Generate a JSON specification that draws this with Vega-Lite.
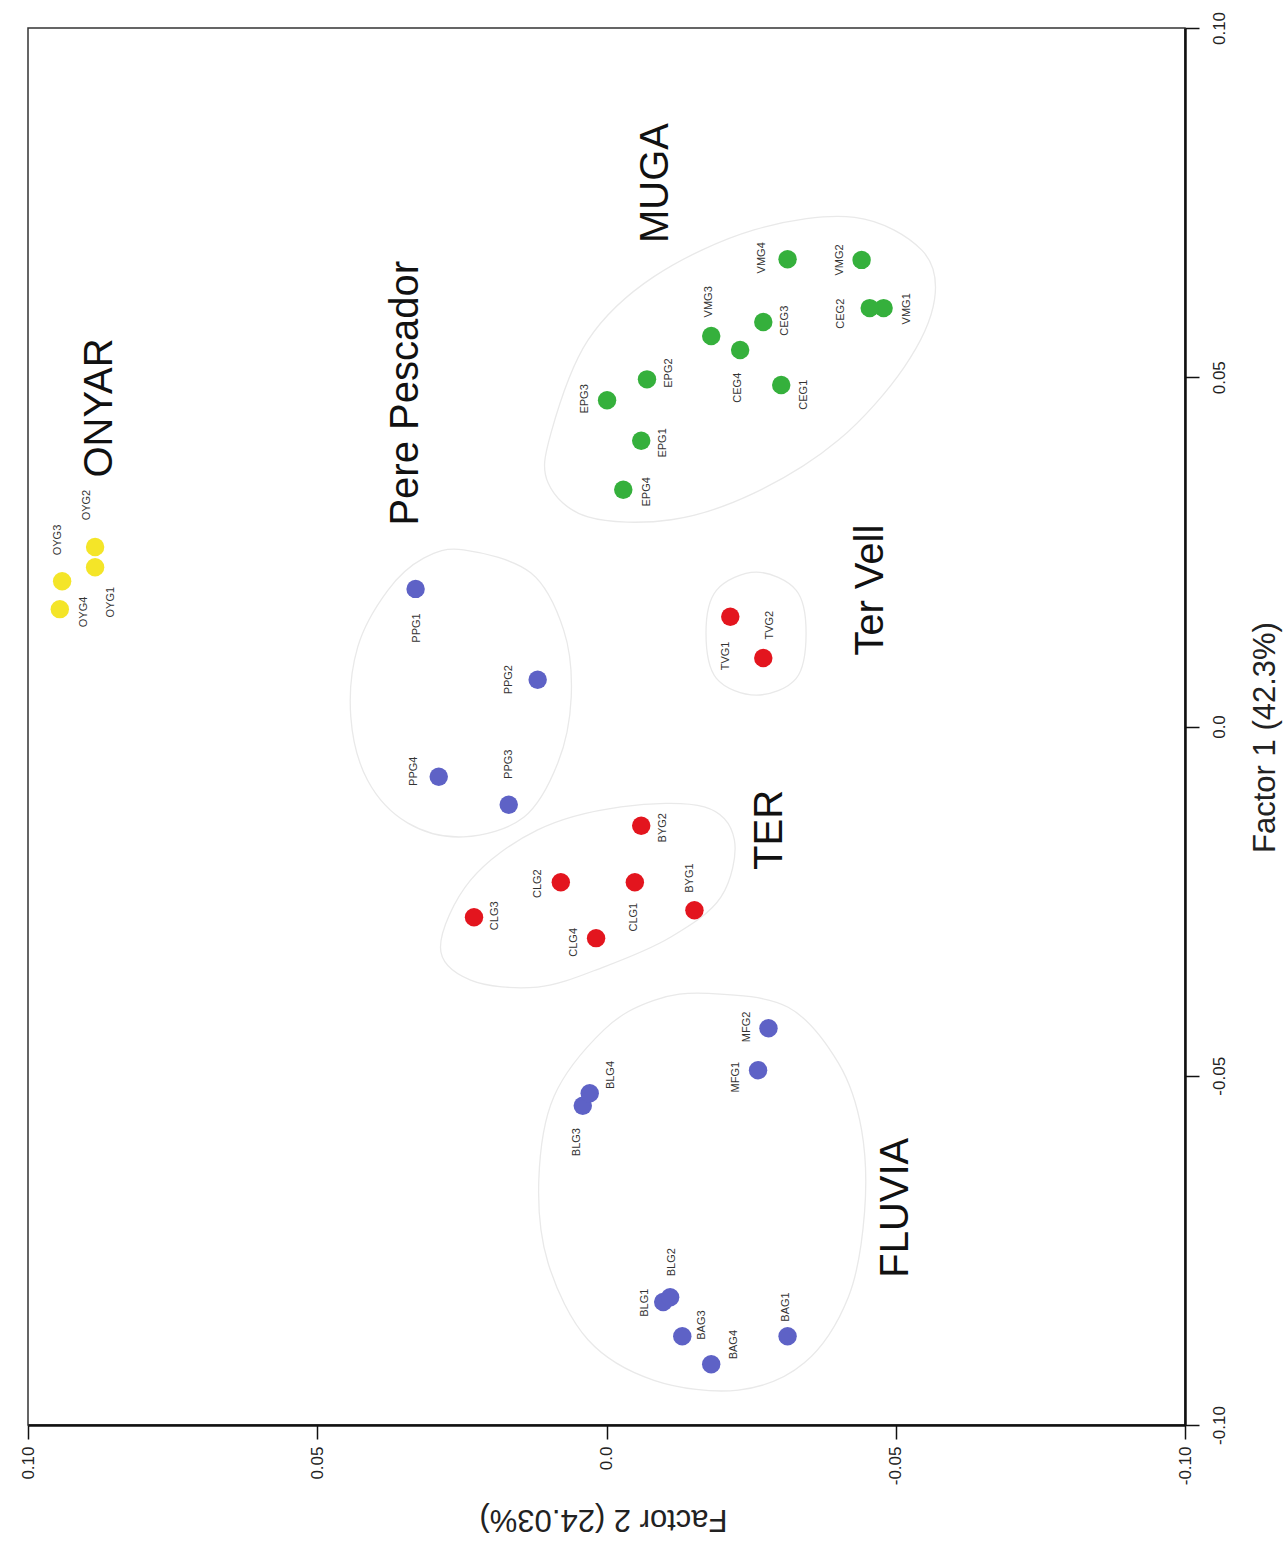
{
  "$schema": "https://vega.github.io/schema/vega-lite/v6.json",
  "width": 1157,
  "height": 1397,
  "autosize": {"type": "none"},
  "padding": {"left": 28, "top": 28, "right": 101, "bottom": 125},
  "background": "white",
  "config": {
    "view": {"stroke": "#333333", "strokeWidth": 1.5},
    "font": "Liberation Sans"
  },
  "datasets": {
    "pts": [
      {"id": "OYG1", "river": "ONYAR", "f2": 0.0884, "f1": 0.0228, "lf2": 0.0856, "lf1": 0.0178},
      {"id": "OYG2", "river": "ONYAR", "f2": 0.0884, "f1": 0.0257, "lf2": 0.0898, "lf1": 0.0317},
      {"id": "OYG3", "river": "ONYAR", "f2": 0.0941, "f1": 0.0208, "lf2": 0.0948, "lf1": 0.0267},
      {"id": "OYG4", "river": "ONYAR", "f2": 0.0945, "f1": 0.0168, "lf2": 0.0903, "lf1": 0.0164},
      {"id": "PPG1", "river": "Pere Pescador", "f2": 0.0330, "f1": 0.0197, "lf2": 0.0328, "lf1": 0.0141},
      {"id": "PPG2", "river": "Pere Pescador", "f2": 0.0119, "f1": 0.0067, "lf2": 0.0169, "lf1": 0.0067},
      {"id": "PPG3", "river": "Pere Pescador", "f2": 0.0169, "f1": -0.0112, "lf2": 0.0169, "lf1": -0.0054},
      {"id": "PPG4", "river": "Pere Pescador", "f2": 0.0290, "f1": -0.0072, "lf2": 0.0333, "lf1": -0.0064},
      {"id": "TVG1", "river": "Ter Vell", "f2": -0.0214, "f1": 0.0157, "lf2": -0.0207, "lf1": 0.0101},
      {"id": "TVG2", "river": "Ter Vell", "f2": -0.0271, "f1": 0.0098, "lf2": -0.0283, "lf1": 0.0145},
      {"id": "EPG1", "river": "MUGA", "f2": -0.0060, "f1": 0.0409, "lf2": -0.0098, "lf1": 0.0406},
      {"id": "EPG2", "river": "MUGA", "f2": -0.0070, "f1": 0.0497, "lf2": -0.0108, "lf1": 0.0506},
      {"id": "EPG3", "river": "MUGA", "f2": -0.0001, "f1": 0.0467, "lf2": 0.0037, "lf1": 0.0469},
      {"id": "EPG4", "river": "MUGA", "f2": -0.0029, "f1": 0.0339, "lf2": -0.0070, "lf1": 0.0336},
      {"id": "VMG1", "river": "MUGA", "f2": -0.0479, "f1": 0.0599, "lf2": -0.0519, "lf1": 0.0598},
      {"id": "VMG2", "river": "MUGA", "f2": -0.0441, "f1": 0.0668, "lf2": -0.0404, "lf1": 0.0668},
      {"id": "VMG3", "river": "MUGA", "f2": -0.0181, "f1": 0.0559, "lf2": -0.0177, "lf1": 0.0608},
      {"id": "VMG4", "river": "MUGA", "f2": -0.0313, "f1": 0.0669, "lf2": -0.0269, "lf1": 0.0671},
      {"id": "CEG1", "river": "MUGA", "f2": -0.0302, "f1": 0.0489, "lf2": -0.0342, "lf1": 0.0475},
      {"id": "CEG2", "river": "MUGA", "f2": -0.0455, "f1": 0.0599, "lf2": -0.0406, "lf1": 0.0591},
      {"id": "CEG3", "river": "MUGA", "f2": -0.0271, "f1": 0.0579, "lf2": -0.0309, "lf1": 0.0581},
      {"id": "CEG4", "river": "MUGA", "f2": -0.0231, "f1": 0.0539, "lf2": -0.0228, "lf1": 0.0485},
      {"id": "BYG1", "river": "TER", "f2": -0.0152, "f1": -0.0263, "lf2": -0.0145, "lf1": -0.0217},
      {"id": "BYG2", "river": "TER", "f2": -0.0060, "f1": -0.0142, "lf2": -0.0098, "lf1": -0.0145},
      {"id": "CLG1", "river": "TER", "f2": -0.0049, "f1": -0.0223, "lf2": -0.0048, "lf1": -0.0273},
      {"id": "CLG2", "river": "TER", "f2": 0.0079, "f1": -0.0223, "lf2": 0.0119, "lf1": -0.0225},
      {"id": "CLG3", "river": "TER", "f2": 0.0229, "f1": -0.0273, "lf2": 0.0193, "lf1": -0.0271},
      {"id": "CLG4", "river": "TER", "f2": 0.0018, "f1": -0.0303, "lf2": 0.0056, "lf1": -0.0309},
      {"id": "MFG1", "river": "FLUVIA", "f2": -0.0262, "f1": -0.0492, "lf2": -0.0223, "lf1": -0.0502},
      {"id": "MFG2", "river": "FLUVIA", "f2": -0.0280, "f1": -0.0432, "lf2": -0.0243, "lf1": -0.0430},
      {"id": "BLG1", "river": "FLUVIA", "f2": -0.0098, "f1": -0.0824, "lf2": -0.0067, "lf1": -0.0825},
      {"id": "BLG2", "river": "FLUVIA", "f2": -0.0110, "f1": -0.0817, "lf2": -0.0113, "lf1": -0.0767},
      {"id": "BLG3", "river": "FLUVIA", "f2": 0.0041, "f1": -0.0543, "lf2": 0.0051, "lf1": -0.0595},
      {"id": "BLG4", "river": "FLUVIA", "f2": 0.0029, "f1": -0.0525, "lf2": -0.0008, "lf1": -0.0499},
      {"id": "BAG1", "river": "FLUVIA", "f2": -0.0313, "f1": -0.0873, "lf2": -0.0311, "lf1": -0.0831},
      {"id": "BAG3", "river": "FLUVIA", "f2": -0.0131, "f1": -0.0873, "lf2": -0.0165, "lf1": -0.0857},
      {"id": "BAG4", "river": "FLUVIA", "f2": -0.0181, "f1": -0.0913, "lf2": -0.0221, "lf1": -0.0885}
    ],
    "ellipses": [
      {"ell": "PP", "i": 0, "f2": 0.0247, "f1": 0.0253},
      {"ell": "PP", "i": 1, "f2": 0.0131, "f1": 0.0220},
      {"ell": "PP", "i": 2, "f2": 0.0074, "f1": 0.0138},
      {"ell": "PP", "i": 3, "f2": 0.0061, "f1": 0.0042},
      {"ell": "PP", "i": 4, "f2": 0.0084, "f1": -0.0052},
      {"ell": "PP", "i": 5, "f2": 0.0143, "f1": -0.0130},
      {"ell": "PP", "i": 6, "f2": 0.0247, "f1": -0.0158},
      {"ell": "PP", "i": 7, "f2": 0.0344, "f1": -0.0138},
      {"ell": "PP", "i": 8, "f2": 0.0413, "f1": -0.0077},
      {"ell": "PP", "i": 9, "f2": 0.0442, "f1": 0.0014},
      {"ell": "PP", "i": 10, "f2": 0.0430, "f1": 0.0114},
      {"ell": "PP", "i": 11, "f2": 0.0378, "f1": 0.0195},
      {"ell": "PP", "i": 12, "f2": 0.0316, "f1": 0.0241},
      {"ell": "MU", "i": 0, "f2": 0.0096, "f1": 0.0420},
      {"ell": "MU", "i": 1, "f2": 0.0032, "f1": 0.0553},
      {"ell": "MU", "i": 2, "f2": -0.0082, "f1": 0.0644},
      {"ell": "MU", "i": 3, "f2": -0.0255, "f1": 0.0711},
      {"ell": "MU", "i": 4, "f2": -0.0429, "f1": 0.0729},
      {"ell": "MU", "i": 5, "f2": -0.0545, "f1": 0.0682},
      {"ell": "MU", "i": 6, "f2": -0.0567, "f1": 0.0611},
      {"ell": "MU", "i": 7, "f2": -0.0515, "f1": 0.0515},
      {"ell": "MU", "i": 8, "f2": -0.0401, "f1": 0.0410},
      {"ell": "MU", "i": 9, "f2": -0.0255, "f1": 0.0334},
      {"ell": "MU", "i": 10, "f2": -0.0112, "f1": 0.0296},
      {"ell": "MU", "i": 11, "f2": 0.0032, "f1": 0.0300},
      {"ell": "MU", "i": 12, "f2": 0.0101, "f1": 0.0349},
      {"ell": "TV", "i": 0, "f2": -0.0259, "f1": 0.0221},
      {"ell": "TV", "i": 1, "f2": -0.0328, "f1": 0.0195},
      {"ell": "TV", "i": 2, "f2": -0.0345, "f1": 0.0134},
      {"ell": "TV", "i": 3, "f2": -0.0328, "f1": 0.0069},
      {"ell": "TV", "i": 4, "f2": -0.0259, "f1": 0.0045},
      {"ell": "TV", "i": 5, "f2": -0.0190, "f1": 0.0069},
      {"ell": "TV", "i": 6, "f2": -0.0172, "f1": 0.0134},
      {"ell": "TV", "i": 7, "f2": -0.0190, "f1": 0.0195},
      {"ell": "TE", "i": 0, "f2": 0.0287, "f1": -0.0316},
      {"ell": "TE", "i": 1, "f2": 0.0235, "f1": -0.0220},
      {"ell": "TE", "i": 2, "f2": 0.0119, "f1": -0.0148},
      {"ell": "TE", "i": 3, "f2": -0.0025, "f1": -0.0115},
      {"ell": "TE", "i": 4, "f2": -0.0169, "f1": -0.0115},
      {"ell": "TE", "i": 5, "f2": -0.0221, "f1": -0.0162},
      {"ell": "TE", "i": 6, "f2": -0.0198, "f1": -0.0244},
      {"ell": "TE", "i": 7, "f2": -0.0112, "f1": -0.0301},
      {"ell": "TE", "i": 8, "f2": 0.0004, "f1": -0.0344},
      {"ell": "TE", "i": 9, "f2": 0.0119, "f1": -0.0373},
      {"ell": "TE", "i": 10, "f2": 0.0235, "f1": -0.0363},
      {"ell": "FL", "i": 0, "f2": -0.0176, "f1": -0.0382},
      {"ell": "FL", "i": 1, "f2": -0.0314, "f1": -0.0402},
      {"ell": "FL", "i": 2, "f2": -0.0401, "f1": -0.0482},
      {"ell": "FL", "i": 3, "f2": -0.0441, "f1": -0.0578},
      {"ell": "FL", "i": 4, "f2": -0.0446, "f1": -0.0696},
      {"ell": "FL", "i": 5, "f2": -0.0418, "f1": -0.0817},
      {"ell": "FL", "i": 6, "f2": -0.0342, "f1": -0.0911},
      {"ell": "FL", "i": 7, "f2": -0.0228, "f1": -0.0950},
      {"ell": "FL", "i": 8, "f2": -0.0082, "f1": -0.0936},
      {"ell": "FL", "i": 9, "f2": 0.0032, "f1": -0.0878},
      {"ell": "FL", "i": 10, "f2": 0.0101, "f1": -0.0768},
      {"ell": "FL", "i": 11, "f2": 0.0117, "f1": -0.0649},
      {"ell": "FL", "i": 12, "f2": 0.0091, "f1": -0.0530},
      {"ell": "FL", "i": 13, "f2": 0.0004, "f1": -0.0434},
      {"ell": "FL", "i": 14, "f2": -0.0082, "f1": -0.0392}
    ],
    "groups": [
      {"name": "ONYAR", "f2": 0.0875, "f1": 0.0456},
      {"name": "Pere Pescador", "f2": 0.0347, "f1": 0.0477},
      {"name": "MUGA", "f2": -0.0086, "f1": 0.0778},
      {"name": "Ter Vell", "f2": -0.0458, "f1": 0.0195},
      {"name": "TER", "f2": -0.0283, "f1": -0.0148},
      {"name": "FLUVIA", "f2": -0.0501, "f1": -0.0689}
    ]
  },
  "layer": [
    {
      "data": {"name": "ellipses"},
      "mark": {"type": "line", "interpolate": "cardinal-closed", "stroke": "#e9e9e9", "strokeWidth": 1.3},
      "encoding": {
        "x": {"field": "f2", "type": "quantitative"},
        "y": {"field": "f1", "type": "quantitative"},
        "detail": {"field": "ell"},
        "order": {"field": "i", "type": "quantitative"}
      }
    },
    {
      "mark": {"type": "rule", "color": "#ededed", "strokeWidth": 1.5},
      "encoding": {"x": {"datum": 0, "type": "quantitative"}}
    },
    {
      "mark": {"type": "rule", "color": "#ededed", "strokeWidth": 1.5},
      "encoding": {"y": {"datum": 0, "type": "quantitative"}}
    },
    {
      "data": {"name": "pts"},
      "mark": {"type": "circle", "size": 340, "opacity": 1},
      "encoding": {
        "x": {
          "field": "f2", "type": "quantitative",
          "scale": {"domain": [-0.1, 0.1], "reverse": true, "nice": false, "zero": false},
          "axis": {
            "orient": "bottom",
            "values": [-0.1, -0.05, 0, 0.05, 0.1],
            "labelExpr": "datum.value == 0 ? '0.0' : replace(format(datum.value, '.2f'), '\u2212', '-')",
            "grid": false,
            "domainColor": "#111111", "domainWidth": 2.5,
            "tickColor": "#111111", "tickWidth": 1.5, "tickSize": 14,
            "labelFont": "Liberation Sans", "labelFontSize": 17, "labelColor": "#222222",
            "labelAngle": 270, "labelAlign": "right", "labelBaseline": "middle", "labelPadding": 7,
            "labelFlush": false, "labelOverlap": false,
            "title": "Factor 2 (24.03%)",
            "titleFont": "Liberation Sans", "titleFontSize": 31, "titleFontWeight": "normal", "titleColor": "#222222",
            "titleAngle": 180, "titleBaseline": "middle", "titleAlign": "center",
            "titleY": 93, "titleX": 575
          }
        },
        "y": {
          "field": "f1", "type": "quantitative",
          "scale": {"domain": [-0.1, 0.1], "nice": false, "zero": false},
          "axis": {
            "orient": "right",
            "values": [-0.1, -0.05, 0, 0.05, 0.1],
            "labelExpr": "datum.value == 0 ? '0.0' : replace(format(datum.value, '.2f'), '\u2212', '-')",
            "grid": false,
            "domainColor": "#111111", "domainWidth": 2.5,
            "tickColor": "#111111", "tickWidth": 1.5, "tickSize": 14,
            "labelFont": "Liberation Sans", "labelFontSize": 17, "labelColor": "#222222",
            "labelAngle": 270, "labelAlign": "center", "labelBaseline": "top", "labelPadding": 12,
            "labelFlush": false, "labelOverlap": false,
            "title": "Factor 1 (42.3%)",
            "titleFont": "Liberation Sans", "titleFontSize": 31, "titleFontWeight": "normal", "titleColor": "#222222",
            "titleAngle": 270, "titleBaseline": "middle", "titleAlign": "center",
            "titleX": 80, "titleY": 709
          }
        },
        "color": {
          "field": "river", "type": "nominal", "legend": null,
          "scale": {
            "domain": ["ONYAR", "Pere Pescador", "FLUVIA", "TER", "Ter Vell", "MUGA"],
            "range": ["#f4e528", "#5e62c6", "#5e62c6", "#e3151e", "#e3151e", "#35b03c"]
          }
        }
      }
    },
    {
      "data": {"name": "pts"},
      "mark": {"type": "text", "angle": 270, "align": "center", "baseline": "middle", "fontSize": 11, "font": "Liberation Sans", "color": "#333333"},
      "encoding": {
        "x": {"field": "lf2", "type": "quantitative"},
        "y": {"field": "lf1", "type": "quantitative"},
        "text": {"field": "id"}
      }
    },
    {
      "data": {"name": "groups"},
      "mark": {"type": "text", "angle": 270, "align": "center", "baseline": "middle", "fontSize": 40, "font": "Liberation Sans", "color": "#111111"},
      "encoding": {
        "x": {"field": "f2", "type": "quantitative"},
        "y": {"field": "f1", "type": "quantitative"},
        "text": {"field": "name"}
      }
    }
  ]
}
